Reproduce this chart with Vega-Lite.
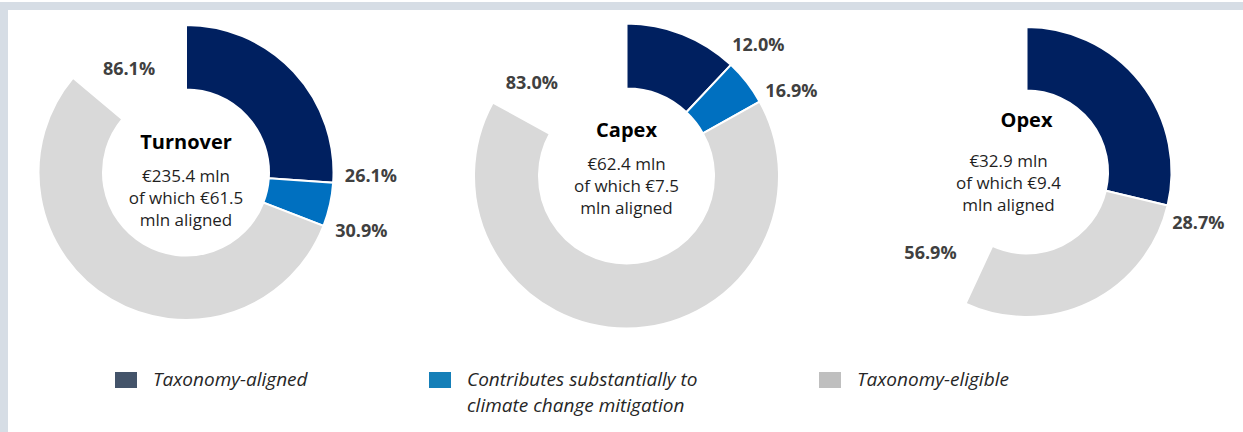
{
  "$schema": "https://vega.github.io/schema/vega-lite/v6.json",
  "background": "white",
  "padding": 0,
  "spacing": 0,
  "bounds": "flush",
  "config": {
    "view": {"stroke": null},
    "font": "Open Sans",
    "style": {"guide-label": {"lineHeight": 26}}
  },
  "datasets": {
    "segments": [
      {"chart": "Turnover", "cat": "Taxonomy-aligned", "from": 0, "to": 0.261},
      {"chart": "Turnover", "cat": "Contributes substantially to climate change mitigation", "from": 0.261, "to": 0.309},
      {"chart": "Turnover", "cat": "Taxonomy-eligible", "from": 0.309, "to": 0.861},
      {"chart": "Capex", "cat": "Taxonomy-aligned", "from": 0, "to": 0.120},
      {"chart": "Capex", "cat": "Contributes substantially to climate change mitigation", "from": 0.120, "to": 0.169},
      {"chart": "Capex", "cat": "Taxonomy-eligible", "from": 0.169, "to": 0.830},
      {"chart": "Opex", "cat": "Taxonomy-aligned", "from": 0, "to": 0.287},
      {"chart": "Opex", "cat": "Taxonomy-eligible", "from": 0.287, "to": 0.569}
    ],
    "centers": [
      {"chart": "Turnover", "title": "Turnover", "body": "€235.4 mln\nof which €61.5\nmln aligned"},
      {"chart": "Capex", "title": "Capex", "body": "€62.4 mln\nof which €7.5\nmln aligned"},
      {"chart": "Opex", "title": "Opex", "body": "€32.9 mln\nof which €9.4\nmln aligned"}
    ],
    "legendItems": [
      {"cat": "Taxonomy-aligned"},
      {"cat": "Contributes substantially to climate change mitigation"},
      {"cat": "Taxonomy-eligible"}
    ]
  },
  "vconcat": [
    {
      "width": 1243, "height": 8,
      "view": {"fill": "#d6dde5", "stroke": null},
      "data": {"values": [{}]},
      "mark": {"type": "text", "text": ""}
    },
    {
      "spacing": 0,
      "bounds": "flush",
      "hconcat": [
        {
          "width": 8, "height": 424,
          "view": {"fill": "#d6dde5", "stroke": null},
          "data": {"values": [{}]},
          "mark": {"type": "text", "text": ""}
        },
        {
          "width": 356, "height": 325,
          "layer": [
            {
              "data": {"name": "segments"},
              "transform": [{"filter": "datum.chart == 'Turnover'"}],
              "mark": {"type": "arc", "outerRadius": 147.5, "innerRadius": 83, "stroke": "white", "strokeWidth": 2},
              "encoding": {
                "theta": {"field": "from", "type": "quantitative", "scale": {"domain": [0, 1]}},
                "theta2": {"field": "to"},
                "fill": {"field": "cat", "type": "nominal", "legend": null,
                  "scale": {"domain": ["Taxonomy-eligible", "Taxonomy-aligned", "Contributes substantially to climate change mitigation"], "range": ["#d9d9d9", "#002060", "#0070c0"]}}
              }
            },
            {
              "data": {"name": "centers"},
              "transform": [{"filter": "datum.chart == 'Turnover'"}],
              "mark": {"type": "text", "fontSize": 20, "fontWeight": "bold", "color": "#000000", "baseline": "alphabetic", "dy": -23.5},
              "encoding": {"text": {"field": "title"}}
            },
            {
              "data": {"name": "centers"},
              "transform": [{"filter": "datum.chart == 'Turnover'"}],
              "mark": {"type": "text", "fontSize": 17, "lineBreak": "\n", "lineHeight": 22, "color": "#1f1f1f", "baseline": "alphabetic", "dy": 9.5},
              "encoding": {"text": {"field": "body"}}
            },
            {
              "data": {"name": "segments"},
              "transform": [{"filter": "datum.chart == 'Turnover' && datum.to < 0.5"}],
              "mark": {"type": "text", "radius": 185, "thetaOffset": -0.046, "fontSize": 18, "fontWeight": "bold", "color": "#404040", "align": "center", "baseline": "middle"},
              "encoding": {
                "theta": {"field": "to", "type": "quantitative", "stack": null, "scale": {"domain": [0, 1]}},
                "text": {"field": "to", "type": "quantitative", "format": ".1%"}
              }
            },
            {
              "data": {"name": "segments"},
              "transform": [{"filter": "datum.chart == 'Turnover' && datum.to > 0.5"}],
              "mark": {"type": "text", "radius": 117.5, "thetaOffset": 0.367, "fontSize": 18, "fontWeight": "bold", "color": "#404040", "align": "center", "baseline": "middle"},
              "encoding": {
                "theta": {"field": "to", "type": "quantitative", "stack": null, "scale": {"domain": [0, 1]}},
                "text": {"field": "to", "type": "quantitative", "format": ".1%"}
              }
            },
            {
              "data": {"name": "legendItems"},
              "mark": {"type": "square", "size": 0, "filled": true},
              "encoding": {
                "color": {"field": "cat", "type": "nominal",
                  "scale": {"domain": ["Taxonomy-aligned", "Contributes substantially to climate change mitigation", "Taxonomy-eligible"], "range": ["#44546a", "#157fb8", "#bfbfbf"]},
                  "legend": {
                    "orient": "none", "legendX": 115, "legendY": 367, "direction": "horizontal", "title": null,
                    "symbolType": "M-1,-0.727H1V0.727H-1Z", "symbolSize": 484, "symbolOpacity": 1, "symbolStrokeWidth": 0,
                    "labelFont": "Open Sans", "labelFontStyle": "italic", "labelFontSize": 19, "labelColor": "#262626",
                    "labelOffset": 16, "columnPadding": 121, "labelLimit": 400, "padding": 0, "offset": 0,
                    "labelExpr": "datum.label == 'Contributes substantially to climate change mitigation' ? ['Contributes substantially to', 'climate change mitigation'] : [datum.label, '']"
                  }
                }
              }
            }
          ]
        },
        {
          "width": 525, "height": 332,
          "layer": [
            {
              "data": {"name": "segments"},
              "transform": [{"filter": "datum.chart == 'Capex'"}],
              "mark": {"type": "arc", "outerRadius": 152.5, "innerRadius": 87.5, "stroke": "white", "strokeWidth": 2},
              "encoding": {
                "theta": {"field": "from", "type": "quantitative", "scale": {"domain": [0, 1]}},
                "theta2": {"field": "to"},
                "fill": {"field": "cat", "type": "nominal", "legend": null,
                  "scale": {"domain": ["Taxonomy-eligible", "Taxonomy-aligned", "Contributes substantially to climate change mitigation"], "range": ["#d9d9d9", "#002060", "#0070c0"]}}
              }
            },
            {
              "data": {"name": "centers"},
              "transform": [{"filter": "datum.chart == 'Capex'"}],
              "mark": {"type": "text", "fontSize": 20, "fontWeight": "bold", "color": "#000000", "baseline": "alphabetic", "dy": -39},
              "encoding": {"text": {"field": "title"}}
            },
            {
              "data": {"name": "centers"},
              "transform": [{"filter": "datum.chart == 'Capex'"}],
              "mark": {"type": "text", "fontSize": 17, "lineBreak": "\n", "lineHeight": 22, "color": "#1f1f1f", "baseline": "alphabetic", "dy": -6},
              "encoding": {"text": {"field": "body"}}
            },
            {
              "data": {"name": "segments"},
              "transform": [{"filter": "datum.chart == 'Capex' && datum.to < 0.5"}],
              "mark": {"type": "text", "radius": 185, "thetaOffset": 0.039, "fontSize": 18, "fontWeight": "bold", "color": "#404040", "align": "center", "baseline": "middle"},
              "encoding": {
                "theta": {"field": "to", "type": "quantitative", "stack": null, "scale": {"domain": [0, 1]}},
                "text": {"field": "to", "type": "quantitative", "format": ".1%"}
              }
            },
            {
              "data": {"name": "segments"},
              "transform": [{"filter": "datum.chart == 'Capex' && datum.to > 0.5"}],
              "mark": {"type": "text", "radius": 132, "thetaOffset": 0.269, "fontSize": 18, "fontWeight": "bold", "color": "#404040", "align": "center", "baseline": "middle"},
              "encoding": {
                "theta": {"field": "to", "type": "quantitative", "stack": null, "scale": {"domain": [0, 1]}},
                "text": {"field": "to", "type": "quantitative", "format": ".1%"}
              }
            }
          ]
        },
        {
          "width": 275, "height": 324,
          "layer": [
            {
              "data": {"name": "segments"},
              "transform": [{"filter": "datum.chart == 'Opex'"}],
              "mark": {"type": "arc", "outerRadius": 145, "innerRadius": 81.5, "stroke": "white", "strokeWidth": 2},
              "encoding": {
                "theta": {"field": "from", "type": "quantitative", "scale": {"domain": [0, 1]}},
                "theta2": {"field": "to"},
                "fill": {"field": "cat", "type": "nominal", "legend": null,
                  "scale": {"domain": ["Taxonomy-eligible", "Taxonomy-aligned", "Contributes substantially to climate change mitigation"], "range": ["#d9d9d9", "#002060", "#0070c0"]}}
              }
            },
            {
              "data": {"name": "centers"},
              "transform": [{"filter": "datum.chart == 'Opex'"}],
              "mark": {"type": "text", "fontSize": 20, "fontWeight": "bold", "color": "#000000", "baseline": "alphabetic", "dy": -45},
              "encoding": {"text": {"field": "title"}}
            },
            {
              "data": {"name": "centers"},
              "transform": [{"filter": "datum.chart == 'Opex'"}],
              "mark": {"type": "text", "fontSize": 17, "lineBreak": "\n", "lineHeight": 22, "color": "#1f1f1f", "baseline": "alphabetic", "dy": -5, "dx": -18},
              "encoding": {"text": {"field": "body"}}
            },
            {
              "data": {"name": "segments"},
              "transform": [{"filter": "datum.chart == 'Opex' && datum.to < 0.5"}],
              "mark": {"type": "text", "radius": 179.5, "thetaOffset": 0.061, "fontSize": 18, "fontWeight": "bold", "color": "#404040", "align": "center", "baseline": "middle"},
              "encoding": {
                "theta": {"field": "to", "type": "quantitative", "stack": null, "scale": {"domain": [0, 1]}},
                "text": {"field": "to", "type": "quantitative", "format": ".1%"}
              }
            },
            {
              "data": {"name": "segments"},
              "transform": [{"filter": "datum.chart == 'Opex' && datum.to > 0.5"}],
              "mark": {"type": "text", "radius": 126, "thetaOffset": 0.433, "fontSize": 18, "fontWeight": "bold", "color": "#404040", "align": "center", "baseline": "middle"},
              "encoding": {
                "theta": {"field": "to", "type": "quantitative", "stack": null, "scale": {"domain": [0, 1]}},
                "text": {"field": "to", "type": "quantitative", "format": ".1%"}
              }
            }
          ]
        }
      ]
    }
  ]
}
